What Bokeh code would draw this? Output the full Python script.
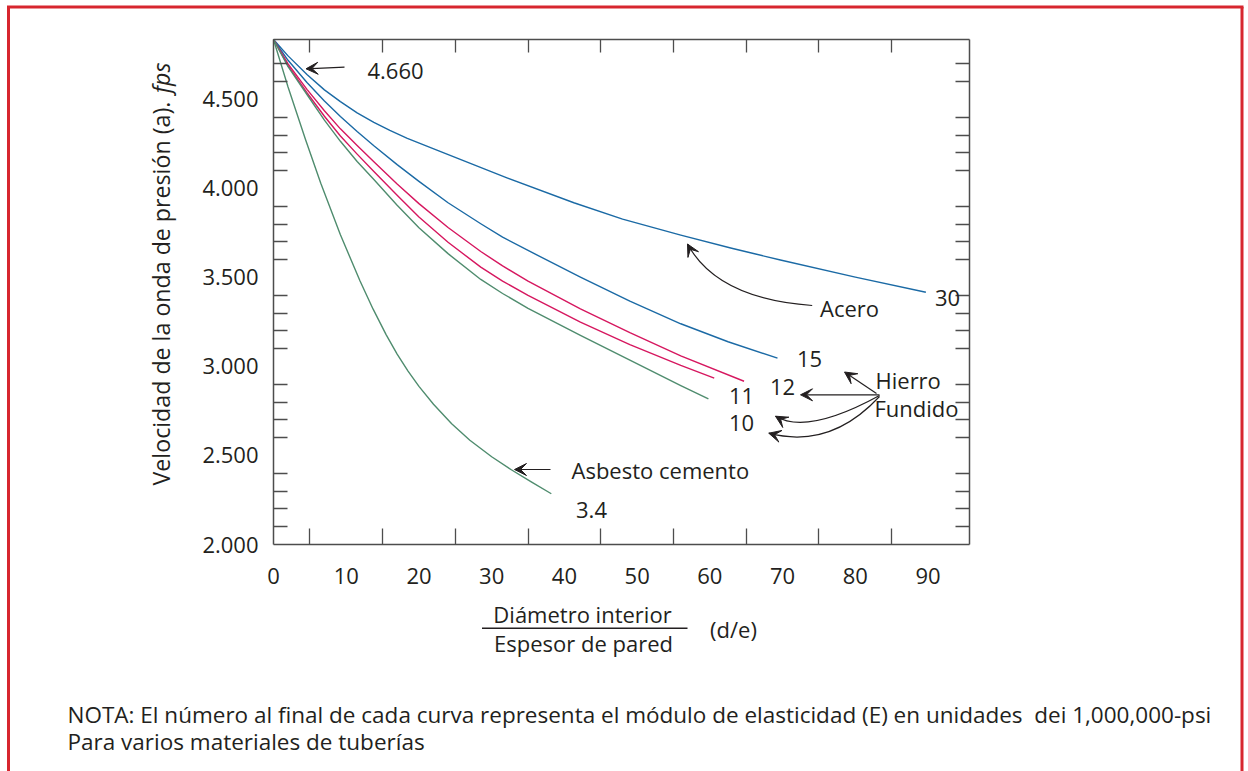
import math
from bokeh.plotting import figure
from bokeh.models import Range1d, LinearAxis, FixedTicker, Label, Arrow, VeeHead
from bokeh.embed import file_html
from bokeh.resources import INLINE

# ---------------- data ----------------
x_ticks = [0, 10, 20, 30, 40, 50, 60, 70, 80, 90]
x_minor = [5, 15, 25, 35, 45, 55, 65, 75, 85]
y_ticks = [2000, 2500, 3000, 3500, 4000, 4500]
y_tick_labels = ["2.000", "2.500", "3.000", "3.500", "4.000", "4.500"]
y_minor = [2100, 2200, 2300, 2400, 2600, 2700, 2800, 2900, 3100, 3200, 3300, 3400,
           3600, 3700, 3800, 3900, 4100, 4200, 4300, 4400, 4600, 4700]

# Acero, E = 30
de_30 = [0, 2, 4.6, 7, 9.2, 11.5, 13.8, 16, 18.4, 22.9, 32.1, 41.3, 48, 56, 63, 69.7, 80, 89.7]
a_30 = [4837, 4745, 4640, 4554, 4488, 4425, 4372, 4326, 4282, 4208, 4060, 3920, 3828, 3738,
        3664, 3598, 3502, 3417]
# Acero, E = 15
de_15 = [0, 2, 4.6, 7, 9.2, 11.5, 13.8, 17, 20, 24, 28.5, 31.5, 35, 42.2, 49, 56, 62.5, 69.3]
a_15 = [4837, 4720, 4595, 4492, 4405, 4320, 4240, 4134, 4040, 3920, 3802, 3727, 3652, 3502,
        3367, 3240, 3139, 3047]
# Hierro fundido, E = 12
de_12 = [0, 2, 4.6, 7, 9.2, 11.5, 13.8, 17, 20, 24, 28.5, 31.5, 35, 42.2, 49, 56, 64.7]
a_12 = [4837, 4700, 4557, 4437, 4335, 4241, 4150, 4025, 3915, 3781, 3646, 3565, 3480, 3324,
        3190, 3060, 2917]
# Hierro fundido, E = 11
de_11 = [0, 2, 4.6, 7, 9.2, 11.5, 13.8, 17, 20, 24, 28.5, 31.5, 35, 42.2, 49, 56, 60.6]
a_11 = [4837, 4690, 4538, 4406, 4295, 4193, 4095, 3962, 3840, 3698, 3558, 3480, 3399, 3249,
        3123, 3006, 2935]
# Hierro fundido, E = 10
de_10 = [0, 2, 4.6, 7, 9.2, 11.5, 13.8, 17, 20, 24, 28.5, 31.5, 35, 42.2, 49, 56, 59.8]
a_10 = [4837, 4685, 4528, 4384, 4265, 4152, 4050, 3906, 3780, 3634, 3489, 3410, 3327, 3175,
        3036, 2893, 2818]
# Asbesto cemento, E = 3.4
de_34 = [0, 2, 4.4, 6.5, 9.2, 11.9, 13.7, 15.5, 17, 18.5, 20, 22, 24.5, 27, 30, 32.7, 35.5, 38.2]
a_34 = [4837, 4570, 4275, 4030, 3740, 3480, 3322, 3178, 3070, 2974, 2888, 2788, 2678,
        2586, 2493, 2420, 2350, 2285]

BLUE = "#1b6aa5"
CRIMSON = "#d6175f"
GREEN = "#4f8c6e"
INK = "#231f20"
AXC = "#4d4d4d"
RED = "#d7262e"
FONT = "Open Sans"
FS = "22px"

# ---------------- geometry: the frame covers the whole canvas ----------------
W, H = 1248, 771
FL, FR, FT, FB = 273, 969, 39, 544      # pixel box of the chart axes
X_MAX = 95.7
Y_MIN, Y_MAX = 2000, 4837


def X(px):
    return (px - FL) / (FR - FL) * X_MAX


def Y(py):
    return Y_MIN + (FB - py) / (FB - FT) * (Y_MAX - Y_MIN)


p = figure(width=W, height=H, x_range=Range1d(X(0), X(W)), y_range=Range1d(Y(H), Y(0)),
           output_backend="svg", toolbar_location=None,
           x_axis_location=None, y_axis_location=None, min_border=0)
p.outline_line_color = None
p.grid.visible = False
p.background_fill_color = "white"
p.border_fill_color = "white"


def style_axis(ax, tin):
    ax.axis_line_color = AXC
    ax.axis_line_width = 1.5
    ax.major_tick_line_color = None
    ax.minor_tick_line_color = AXC
    ax.minor_tick_line_width = 1.3
    ax.minor_tick_in = tin
    ax.minor_tick_out = 0
    ax.major_tick_in = 0
    ax.major_tick_out = 0
    ax.major_label_text_font = FONT
    ax.major_label_text_font_size = FS
    ax.major_label_text_color = INK


left = LinearAxis(fixed_location=0, bounds=(Y_MIN, Y_MAX),
                  ticker=FixedTicker(ticks=y_ticks, minor_ticks=y_minor),
                  major_label_overrides={t: s for t, s in zip(y_ticks, y_tick_labels)})
style_axis(left, 14)
left.major_label_standoff = 15
p.add_layout(left, "left")

right = LinearAxis(fixed_location=X_MAX, bounds=(Y_MIN, Y_MAX),
                   ticker=FixedTicker(ticks=[], minor_ticks=y_minor))
style_axis(right, 14)
p.add_layout(right, "right")

bottom = LinearAxis(fixed_location=Y_MIN, bounds=(0, X_MAX),
                    ticker=FixedTicker(ticks=x_ticks, minor_ticks=x_minor))
style_axis(bottom, 16)
bottom.major_label_standoff = 23
p.add_layout(bottom, "below")

top = LinearAxis(fixed_location=Y_MAX, bounds=(0, X_MAX),
                 ticker=FixedTicker(ticks=[], minor_ticks=x_minor))
style_axis(top, 13)
p.add_layout(top, "above")

# ---------------- curves ----------------
for xs, ys, c in [(de_30, a_30, BLUE), (de_15, a_15, BLUE), (de_12, a_12, CRIMSON),
                  (de_11, a_11, CRIMSON), (de_10, a_10, GREEN), (de_34, a_34, GREEN)]:
    p.line(xs, ys, line_color=c, line_width=1.4, line_join="round")

# ---------------- annotations ----------------


def lab(txt, px, py, size=FS, align="center", baseline="middle", angle=0.0, style="normal"):
    p.add_layout(Label(x=X(px), y=Y(py), text=txt, text_align=align, text_baseline=baseline,
                       angle=angle, text_font=FONT, text_font_size=size,
                       text_font_style=style, text_color=INK))


def head(tip, frm):
    dx, dy = tip[0] - frm[0], tip[1] - frm[1]
    L = math.hypot(dx, dy)
    sx, sy = tip[0] - dx / L * 4, tip[1] - dy / L * 4
    p.add_layout(Arrow(x_start=X(sx), y_start=Y(sy), x_end=X(tip[0]), y_end=Y(tip[1]),
                       line_color=INK, line_width=1.2,
                       end=VeeHead(size=12, fill_color=INK, line_color=INK)))


def straight(a, b):
    p.add_layout(Arrow(x_start=X(a[0]), y_start=Y(a[1]), x_end=X(b[0]), y_end=Y(b[1]),
                       line_color=INK, line_width=1.2,
                       end=VeeHead(size=12, fill_color=INK, line_color=INK)))


def curved(a, c, b):
    p.quadratic(x0=[X(a[0])], y0=[Y(a[1])], x1=[X(b[0])], y1=[Y(b[1])],
                cx=[X(c[0])], cy=[Y(c[1])], line_color=INK, line_width=1.2)
    head(b, c)


def rule(a, b, color, width):
    p.line([X(a[0]), X(b[0])], [Y(a[1]), Y(b[1])], line_color=color, line_width=width)


# 4.660 marker
straight((344, 66.7), (305.5, 68.3))
lab("4.660", 395, 70)

# Acero
curved((811.7, 305), (716.7, 298.3), (687, 243.5))
lab("Acero", 849, 307)
lab("30", 947, 297)
lab("15", 809, 358)
lab("12", 782, 386)
lab("11", 741, 395)
lab("10", 741, 422)
lab("Hierro", 875, 379, align="left")
lab("Fundido", 874, 407, align="left")
straight((876, 393), (844, 371.5))
straight((879, 394.3), (800, 394.3))
curved((879, 395), (806.7, 434.6), (775, 415.7))
curved((879, 396), (829.7, 449), (768.3, 432.7))

# Asbesto cemento
straight((550, 469), (514, 469))
lab("Asbesto cemento", 571, 469, align="left")
lab("3.4", 591, 509)

# axis titles
lab("Velocidad de la onda de presión (a).", 160, 485, size="23.2px", align="left", angle=math.pi / 2)
lab("fps", 160, 62, size="23.2px", align="right", angle=math.pi / 2, style="italic")
lab("Diámetro interior", 582, 613)
rule((481.5, 627.7), (687, 627.7), INK, 1.5)
lab("Espesor de pared", 583, 642)
lab("(d/e)", 733, 628)

# note
lab("NOTA: El número al final de cada curva representa el módulo de elasticidad (E) en unidades \u00a0dei 1,000,000-psi",
    67, 714, size="22.5px", align="left")
lab("Para varios materiales de tuberías", 67, 741, size="22.5px", align="left")

# red frame of the figure panel
rule((8, 6.5), (8, 775), RED, 3)
rule((6.5, 6.5), (1243, 6.5), RED, 3)
rule((1241.5, 6.5), (1241.5, 775), RED, 3)

open("out.html", "w").write(file_html(p, INLINE))
